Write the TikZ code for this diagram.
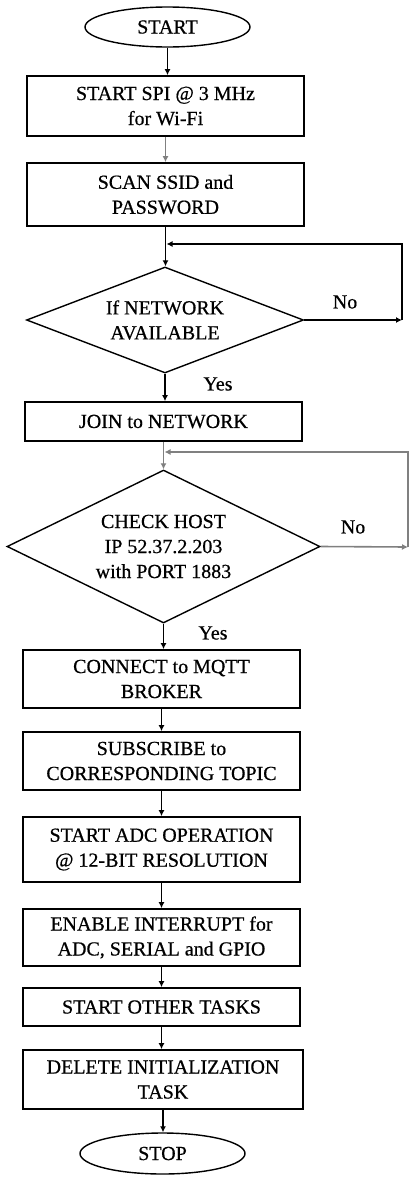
\documentclass[tikz,border=0pt]{standalone}
\usepackage{fontspec}
\setmainfont{Liberation Serif}[FakeBold=0.6]
\usetikzlibrary{shapes.geometric,arrows.meta}
\begin{document}
\begin{tikzpicture}[x=1pt,y=-1pt,
  every node/.style={font=\fontsize{20}{25}\selectfont},
  stepbox/.style={draw,line width=1.7pt,rectangle,inner sep=0pt,align=center,minimum width=277pt},
  term/.style={draw,line width=1.4pt,ellipse,inner sep=0pt,minimum width=165pt,minimum height=40pt},
  decision/.style={draw,line width=1.4pt,diamond,inner sep=0pt,align=center},
  arr/.style={line width=1.6pt,-{Latex[length=6pt,width=6pt]}},
  garr/.style={arr,draw=black!50},
  lab/.style={inner sep=0pt}]
\useasboundingbox (0,0) rectangle (414,1181);
\node[term] (start) at (167.5,27) {START};
\node[stepbox,minimum height=60pt] (b1) at (165.5,106) {START SPI @ 3 MHz\\for Wi-Fi};
\node[stepbox,minimum height=63pt] (b2) at (165.5,194.5) {SCAN SSID and\\PASSWORD};
\node[decision,minimum width=277pt,minimum height=106pt,aspect=2.6] (d1) at (165,320) {If NETWORK\\AVAILABLE};
\node[stepbox,minimum height=39pt] (join) at (163.5,421.5) {JOIN to NETWORK};
\node[decision,minimum width=313pt,minimum height=153pt,aspect=2.05] (d2) at (163.5,546.5) {CHECK HOST\\IP 52.37.2.203\\with PORT 1883};
\node[stepbox,minimum height=58pt] (b3) at (161.5,679) {CONNECT to MQTT\\BROKER};
\node[stepbox,minimum height=58pt] (b4) at (161.5,761) {SUBSCRIBE to\\CORRESPONDING TOPIC};
\node[stepbox,minimum height=65pt] (b5) at (161.5,849.5) {START ADC OPERATION\\@ 12-BIT RESOLUTION};
\node[stepbox,minimum height=57pt] (b6) at (161.5,937.5) {ENABLE INTERRUPT for\\ADC, SERIAL and GPIO};
\node[stepbox,minimum height=38pt] (b7) at (161.5,1007) {START OTHER TASKS};
\node[stepbox,minimum height=59pt,minimum width=280pt] (b8) at (163,1079.5) {DELETE INITIALIZATION\\TASK};
\node[term,minimum height=41pt] (stop) at (162.5,1153.5) {STOP};
\node[lab] (no1) at (345,302) {No};
\node[lab] (yes1) at (218,384) {Yes};
\node[lab] (no2) at (353,527) {No};
\node[lab] (yes2) at (213,633) {Yes};
\coordinate (j1) at (165.5,244);
\coordinate (r1) at (402,320);
\coordinate (t1) at (402,244);
\coordinate (j2) at (163.5,452);
\coordinate (r2) at (408,547);
\coordinate (t2) at (408,452);
\draw[arr] (start.south) -- (start.south |- b1.north);
\draw[garr] (b1.south) -- (b1.south |- b2.north);
\draw[arr] (b2.south) -- (b2.south |- d1.north);
\draw[arr] (d1.east) -- (r1);
\draw[arr] (r1) -- (t1) -- ([xshift=1pt]j1);
\draw[arr] (d1.south) -- (d1.south |- join.north);
\draw[garr] (join.south) -- (join.south |- d2.north);
\draw[garr] (d2.east) -- (r2);
\draw[garr] (r2) -- (t2) -- ([xshift=1pt]j2);
\draw[arr] (d2.south) -- (d2.south |- b3.north);
\draw[arr] (b3.south) -- (b3.south |- b4.north);
\draw[arr] (b4.south) -- (b4.south |- b5.north);
\draw[arr] (b5.south) -- (b5.south |- b6.north);
\draw[arr] (b6.south) -- (b6.south |- b7.north);
\draw[arr] (b7.south) -- (b7.south |- b8.north);
\draw[arr] (b8.south) -- (b8.south |- stop.north);
\end{tikzpicture}
\end{document}
